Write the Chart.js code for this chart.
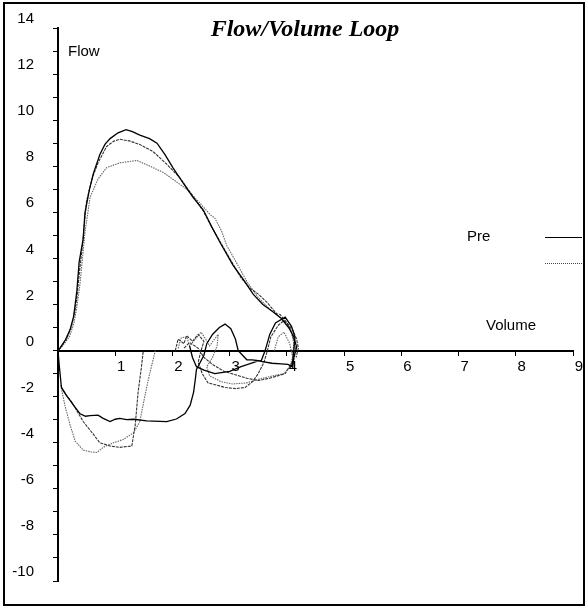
<!DOCTYPE html>
<html><head><meta charset="utf-8">
<script src="https://cdn.jsdelivr.net/npm/chart.js@4.4.1/dist/chart.umd.min.js"></script>
<style>html,body{margin:0;padding:0;background:#fff}canvas{display:block}</style>
</head><body>
<canvas id="c" width="587" height="609"></canvas>
<script>
// ---- text ----
const chartTitle = 'Flow/Volume Loop';
const yAxisLabel = 'Flow';
const xAxisLabel = 'Volume';
const legendLabels = ['Pre', ''];

// ---- tick labels ----
const xTickLabels = [1, 2, 3, 4, 5, 6, 7, 8, 9];
const yTickLabels = [-10, -8, -6, -4, -2, 0, 2, 4, 6, 8, 10, 12, 14];

// ---- trial A (black) ----
const expA = [[0,0],[0.02,0.05],[0.13,0.47],[0.21,0.9],[0.27,1.45],[0.3,2.0],[0.33,2.6],[0.37,3.85],[0.44,4.85],[0.47,5.97],[0.55,7.0],[0.62,7.7],[0.73,8.5],[0.82,8.95],[0.91,9.2],[1.05,9.45],[1.19,9.59],[1.3,9.5],[1.43,9.35],[1.6,9.2],[1.73,9.0],[1.87,8.5],[2.01,7.93],[2.18,7.3],[2.36,6.65],[2.54,6.1],[2.68,5.4],[2.83,4.7],[3.06,3.7],[3.25,3.05],[3.41,2.45],[3.58,2.0],[3.75,1.7],[3.9,1.4],[4.03,1.0],[4.12,0.6],[4.17,0.15],[4.12,-0.3],[4.1,-0.8]];
const inspA = [[0,0],[0.02,-0.6],[0.04,-1.1],[0.06,-1.6],[0.15,-1.95],[0.27,-2.37],[0.38,-2.73],[0.48,-2.85],[0.56,-2.82],[0.7,-2.8],[0.79,-2.94],[0.91,-3.08],[1.0,-2.98],[1.08,-2.94],[1.2,-3.0],[1.32,-2.98],[1.55,-3.05],[1.9,-3.08],[2.07,-2.97],[2.22,-2.73],[2.31,-2.37],[2.37,-1.8],[2.4,-1.24],[2.42,-0.82],[2.45,-0.68]];
const tidalA = [[2.45,-0.68],[2.55,-0.2],[2.6,0.3],[2.7,0.7],[2.82,1.0],[2.92,1.15],[3.02,0.95],[3.1,0.5],[3.15,0.0],[3.3,-0.4],[3.39,-0.4],[3.55,-0.45],[3.62,0],[3.7,0.7],[3.8,1.2],[3.97,1.45],[4.08,1.05],[4.14,0.6],[4.12,0],[4.09,-0.7],[4.02,-0.6],[3.9,-0.58],[3.74,-0.55],[3.5,-0.45],[3.2,-0.7],[3.0,-0.9],[2.74,-1.0],[2.55,-0.85],[2.42,-0.7],[2.35,-0.3],[2.3,0.2]];

// ---- trial B (dark grey) ----
const expB = [[0,0],[0.05,0.15],[0.15,0.5],[0.23,1.0],[0.29,1.6],[0.33,2.3],[0.37,3.3],[0.42,4.4],[0.5,6.5],[0.6,7.5],[0.7,8.15],[0.85,8.86],[0.97,9.08],[1.08,9.17],[1.25,9.1],[1.43,8.94],[1.66,8.64],[1.9,8.09],[2.13,7.5],[2.36,6.7],[2.54,6.05],[2.7,5.3],[2.85,4.65],[3.0,4.0],[3.2,3.15],[3.36,2.7],[3.5,2.45],[3.65,2.1],[3.82,1.6],[3.88,1.57],[3.97,1.3],[4.1,0.9],[4.17,0.5],[4.2,0.1],[4.16,-0.3]];
const inspB = [[0.06,-1.6],[0.12,-1.85],[0.24,-2.23],[0.34,-2.65],[0.44,-3.08],[0.62,-3.64],[0.73,-4.0],[0.91,-4.14],[1.08,-4.2],[1.29,-4.14],[1.35,-3.22],[1.4,-1.8],[1.46,-0.68],[1.49,0]];
const tidalB = [[2.05,0],[2.1,0.5],[2.2,0.3],[2.25,0.65],[2.35,0.4],[2.45,0.7],[2.55,0.4],[2.5,0],[2.45,-0.5],[2.52,-1.0],[2.62,-1.4],[2.92,-1.6],[3.1,-1.65],[3.27,-1.6],[3.4,-1.35],[3.5,-1.0],[3.6,-0.5],[3.66,0],[3.72,0.6],[3.85,1.1],[3.95,1.3],[4.05,1.0],[4.12,0.5],[4.15,0],[4.12,-0.4],[3.97,-1.0],[3.7,-1.2],[3.5,-1.3],[3.3,-1.2],[3.1,-1.05],[2.9,-0.9],[2.7,-0.6],[2.55,-0.3],[2.45,0.1],[2.3,0.35],[2.2,0.1]];

// ---- trial C (light grey, dotted) ----
const expC = [[0,0],[0.08,0.2],[0.2,0.6],[0.28,1.2],[0.33,1.9],[0.38,2.8],[0.42,3.8],[0.47,5.1],[0.56,6.65],[0.7,7.45],[0.85,7.94],[1.08,8.15],[1.38,8.25],[1.61,8.0],[1.84,7.73],[2.0,7.45],[2.25,7.0],[2.48,6.4],[2.66,5.9],[2.74,5.75],[2.86,5.18],[2.95,4.55],[3.1,3.9],[3.3,3.0],[3.5,2.3],[3.7,1.8],[3.85,1.5],[4.0,1.2],[4.08,0.8],[4.12,0.3],[4.1,-0.2]];
const inspC = [[0.05,-1.5],[0.08,-1.9],[0.12,-2.37],[0.21,-3.22],[0.3,-3.93],[0.44,-4.32],[0.58,-4.4],[0.68,-4.42],[0.79,-4.2],[0.97,-4.0],[1.14,-3.86],[1.32,-3.57],[1.43,-3.08],[1.5,-2.2],[1.58,-1.24],[1.7,0]];
const tidalC = [[2.1,0.1],[2.15,0.55],[2.25,0.6],[2.3,0.2],[2.4,0.5],[2.5,0.8],[2.58,0.5],[2.65,0.2],[2.72,0.45],[2.8,0.7],[2.78,0.2],[2.7,-0.3],[2.6,-0.7],[2.65,-1.1],[2.85,-1.35],[3.05,-1.45],[3.3,-1.4],[3.5,-1.25],[3.75,-1.1],[3.95,-1.0],[4.05,-0.7],[4.1,-0.3],[4.05,0.3],[3.95,0.8],[3.85,0.6],[3.78,0]];

const styleA = {borderColor:'#000', borderWidth:1.3, borderDash:[]};
const styleB = {borderColor:'#333', borderWidth:1.1, borderDash:[3,1]};
const styleC = {borderColor:'#666', borderWidth:1.1, borderDash:[1.5,1]};

function seg(points, st) {
  return Object.assign({
    data: points.map(p => ({x: p[0], y: p[1]})),
    showLine: true, pointRadius: 0, fill: false, tension: 0
  }, st);
}

const datasets = [
  seg(expA, styleA), seg(inspA, styleA), seg(tidalA, styleA),
  seg(expB, styleB), seg(inspB, styleB), seg(tidalB, styleB),
  seg(expC, styleC), seg(inspC, styleC), seg(tidalC, styleC)
];

const sans = '"Liberation Sans", Arial, sans-serif';

const decor = {
  id: 'decor',
  afterDraw(chart) {
    const ctx = chart.ctx;
    ctx.save();
    // frame
    ctx.strokeStyle = '#000';
    ctx.lineWidth = 2;
    ctx.strokeRect(4, 3, 580, 602);
    // title
    ctx.fillStyle = '#000';
    ctx.font = 'bold italic 24px "Liberation Serif", "Times New Roman", serif';
    ctx.textAlign = 'center';
    ctx.textBaseline = 'middle';
    ctx.fillText(chartTitle, 305, 30);
    // axis labels
    ctx.font = '15px ' + sans;
    ctx.textAlign = 'left';
    ctx.fillText(yAxisLabel, 68, 52);
    ctx.fillText(xAxisLabel, 486, 326);
    // legend
    ctx.fillText(legendLabels[0], 467, 237);
    if (legendLabels[1]) ctx.fillText(legendLabels[1], 467, 263);
    ctx.lineWidth = 1;
    ctx.strokeStyle = styleA.borderColor;
    ctx.setLineDash([]);
    ctx.beginPath(); ctx.moveTo(545, 237.5); ctx.lineTo(582, 237.5); ctx.stroke();
    ctx.strokeStyle = '#444';
    ctx.setLineDash([1, 1]);
    ctx.beginPath(); ctx.moveTo(545, 263.5); ctx.lineTo(582, 263.5); ctx.stroke();
    ctx.restore();
  }
};

new Chart(document.getElementById('c'), {
  type: 'scatter',
  data: { datasets },
  plugins: [decor],
  options: {
    responsive: false,
    animation: false,
    devicePixelRatio: 1,
    layout: { padding: { left: 0, top: 23, right: 14, bottom: 18 } },
    plugins: { legend: { display: false }, tooltip: { enabled: false }, title: { display: false } },
    scales: {
      x: {
        type: 'linear', min: 0, max: 9,
        position: { y: 0 },
        border: { display: true, color: '#000', width: 2 },
        grid: { drawOnChartArea: false, drawTicks: true, tickLength: 4, color: '#000' },
        ticks: {
          stepSize: 1, autoSkip: false, maxRotation: 0, padding: 3, labelOffset: 6,
          color: '#000', font: { family: sans, size: 15 },
          callback: v => xTickLabels.includes(v) ? String(v) : ''
        }
      },
      y: {
        type: 'linear', min: -10, max: 14,
        position: 'left',
        afterFit: s => { s.width = 58; },
        border: { display: true, color: '#000', width: 2 },
        grid: { drawOnChartArea: false, drawTicks: true, tickLength: 5, color: '#000' },
        ticks: {
          stepSize: 1, autoSkip: false, padding: 19, labelOffset: -9,
          color: '#000', font: { family: sans, size: 15 },
          callback: v => yTickLabels.includes(v) ? String(v) : ''
        }
      }
    }
  }
});
</script>
</body></html>
